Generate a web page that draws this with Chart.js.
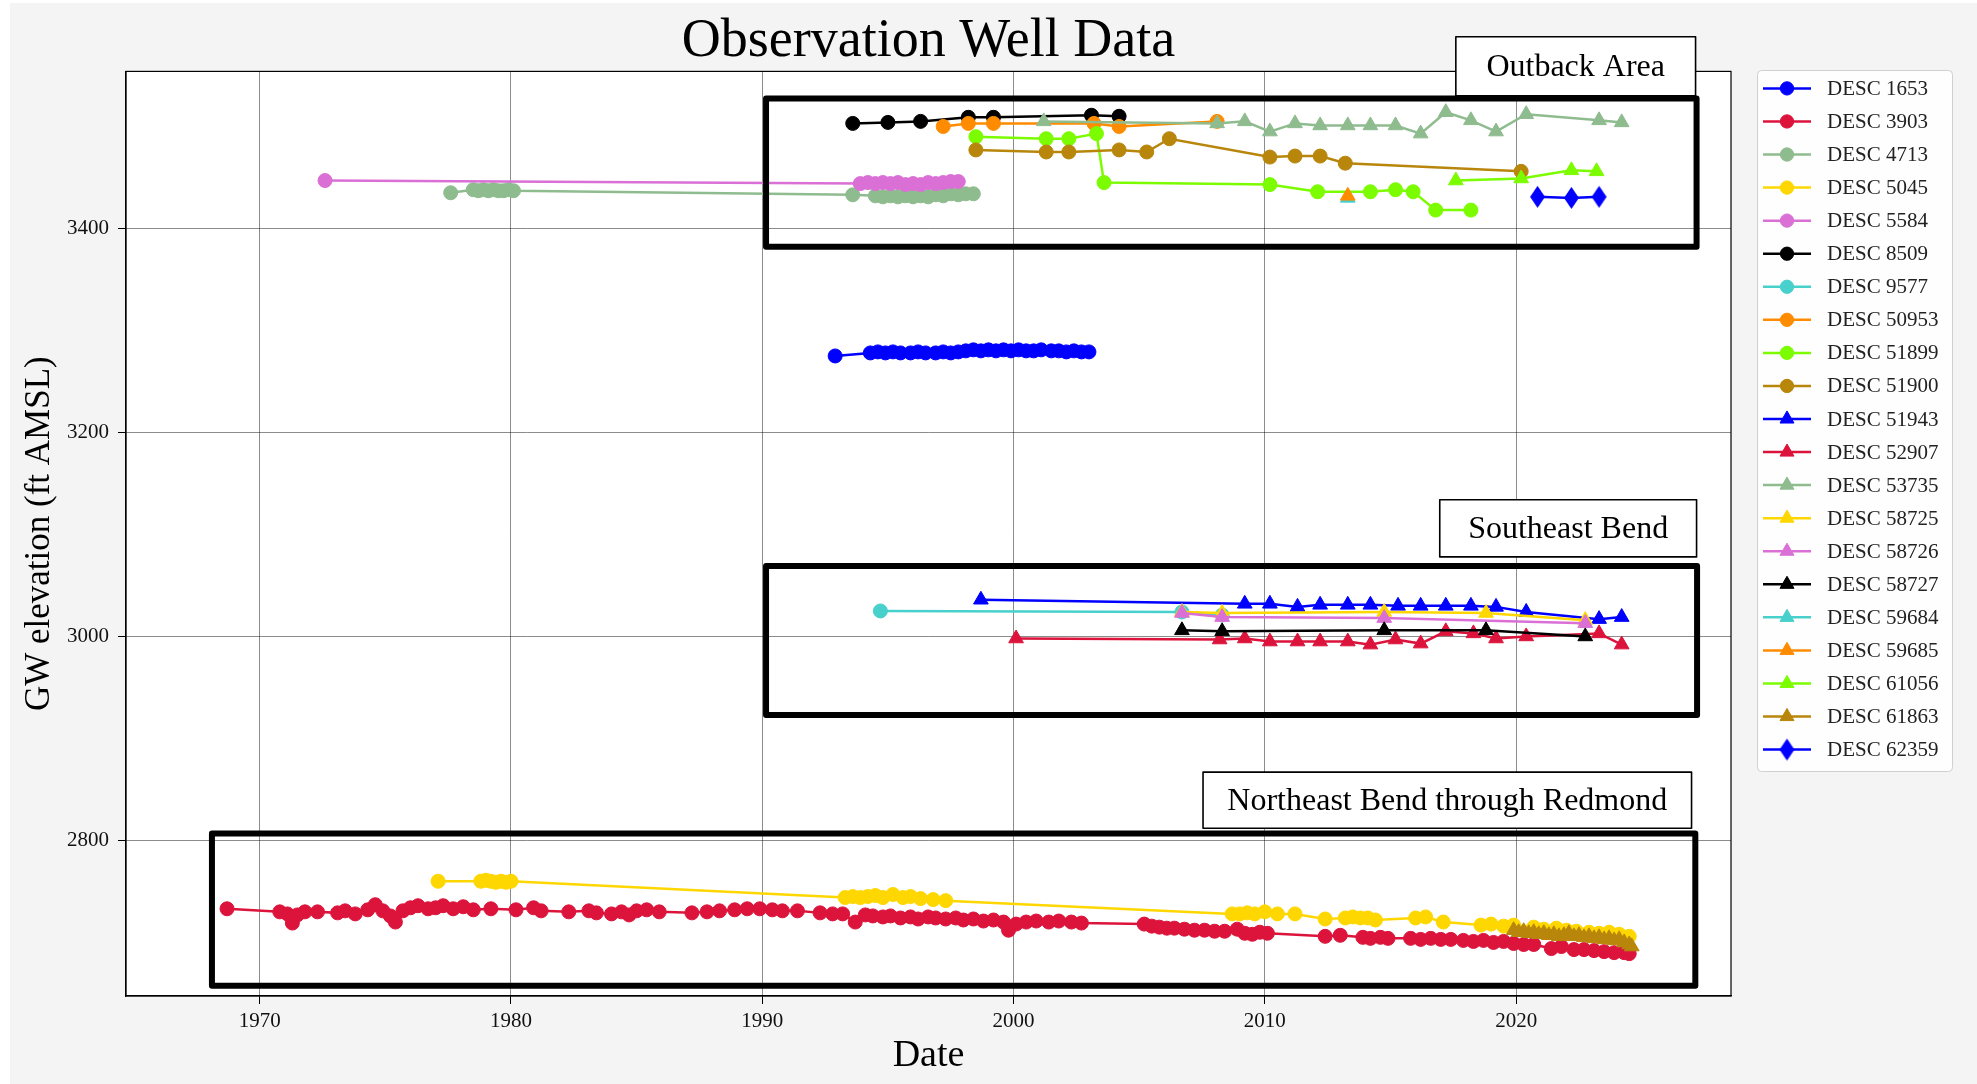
<!DOCTYPE html>
<html>
<head>
<meta charset="utf-8">
<script src="https://cdn.jsdelivr.net/npm/chart.js@4.4.1/dist/chart.umd.min.js"></script>
<style>
  html, body { margin: 0; padding: 0; background: #ffffff; }
  canvas { display: block; }
</style>
</head>
<body>
<canvas id="grafico" width="1977" height="1084"></canvas>
<script>
// Ejes
const xTicks = [1970, 1980, 1990, 2000, 2010, 2020];
const yTicks = [2800, 3000, 3200, 3400];

// Datos de pozos: [año, elevación (ft AMSL)]
const desc1653 = [[1992.9,3275],[1994.3,3278],[1994.6,3279],[1994.9,3278],[1995.2,3279],[1995.5,3278],[1995.9,3278],[1996.2,3279],[1996.5,3278],[1996.9,3278],[1997.2,3279],[1997.5,3278],[1997.8,3279],[1998.1,3280],[1998.4,3281],[1998.7,3280],[1999.0,3281],[1999.3,3280],[1999.6,3281],[1999.9,3280],[2000.2,3281],[2000.5,3280],[2000.8,3280],[2001.1,3281],[2001.5,3280],[2001.8,3280],[2002.1,3279],[2002.4,3280],[2002.7,3279],[2003.0,3279]];
const desc3903 = [[1968.7,2733],[1970.8,2730],[1971.1,2728],[1971.3,2719],[1971.5,2727],[1971.8,2730],[1972.3,2730],[1973.1,2729],[1973.4,2731],[1973.8,2728],[1974.3,2732],[1974.6,2737],[1974.9,2731],[1975.2,2726],[1975.4,2720],[1975.7,2731],[1976.0,2734],[1976.3,2736],[1976.7,2733],[1977.0,2734],[1977.3,2736],[1977.7,2733],[1978.1,2735],[1978.5,2732],[1979.2,2733],[1980.2,2732],[1980.9,2734],[1981.2,2731],[1982.3,2730],[1983.1,2731],[1983.4,2729],[1984.0,2728],[1984.4,2730],[1984.7,2727],[1985.0,2731],[1985.4,2732],[1985.9,2730],[1987.2,2729],[1987.8,2730],[1988.3,2731],[1988.9,2732],[1989.4,2733],[1989.9,2733],[1990.4,2732],[1990.8,2731],[1991.4,2731],[1992.3,2729],[1992.8,2728],[1993.2,2728],[1993.7,2720],[1994.1,2727],[1994.4,2726],[1994.8,2725],[1995.1,2726],[1995.5,2724],[1995.9,2725],[1996.2,2723],[1996.6,2725],[1996.9,2724],[1997.3,2723],[1997.7,2724],[1998.0,2722],[1998.4,2723],[1998.8,2721],[1999.2,2722],[1999.6,2720],[1999.8,2712],[2000.1,2718],[2000.5,2720],[2000.9,2721],[2001.4,2720],[2001.8,2721],[2002.3,2720],[2002.7,2719],[2005.2,2718],[2005.5,2716],[2005.8,2715],[2006.1,2714],[2006.4,2714],[2006.8,2713],[2007.2,2712],[2007.6,2712],[2008.0,2711],[2008.4,2711],[2008.9,2713],[2009.2,2709],[2009.5,2708],[2009.8,2710],[2010.1,2709],[2012.4,2706],[2013.0,2707],[2013.9,2705],[2014.2,2704],[2014.6,2705],[2014.9,2704],[2015.8,2704],[2016.2,2703],[2016.6,2704],[2017.0,2703],[2017.4,2703],[2017.9,2702],[2018.3,2701],[2018.7,2702],[2019.1,2700],[2019.5,2701],[2019.9,2699],[2020.3,2698],[2020.7,2698],[2021.4,2694],[2021.8,2696],[2022.3,2693],[2022.7,2693],[2023.1,2692],[2023.5,2691],[2023.9,2690],[2024.3,2690],[2024.5,2689]];
const desc4713 = [[1977.6,3435],[1978.5,3438],[1978.7,3437],[1978.9,3438],[1979.1,3437],[1979.3,3438],[1979.5,3437],[1979.7,3437],[1979.9,3438],[1980.1,3437],[1993.6,3433],[1994.5,3432],[1994.8,3431],[1995.1,3432],[1995.4,3431],[1995.7,3432],[1996.0,3431],[1996.3,3432],[1996.6,3431],[1996.9,3433],[1997.2,3432],[1997.5,3434],[1997.8,3433],[1998.1,3434],[1998.4,3434]];
const desc5045 = [[1977.1,2760],[1978.8,2760],[1979.0,2761],[1979.2,2760],[1979.4,2759],[1979.6,2760],[1979.8,2759],[1980.0,2760],[1993.3,2744],[1993.6,2745],[1993.9,2744],[1994.2,2745],[1994.5,2746],[1994.8,2744],[1995.2,2747],[1995.6,2744],[1995.9,2745],[1996.3,2743],[1996.8,2742],[1997.3,2741],[2008.7,2728],[2009.0,2728],[2009.3,2729],[2009.6,2728],[2010.0,2730],[2010.5,2728],[2011.2,2728],[2012.4,2723],[2013.2,2724],[2013.5,2725],[2013.8,2724],[2014.1,2724],[2014.4,2722],[2016.0,2724],[2016.4,2725],[2017.1,2720],[2018.6,2717],[2019.0,2718],[2019.5,2716],[2019.9,2717],[2020.7,2715],[2021.1,2713],[2021.6,2714],[2022.0,2712],[2022.4,2711],[2022.9,2710],[2023.3,2709],[2023.7,2710],[2024.1,2708],[2024.5,2706]];
const desc5584 = [[1972.6,3447],[1993.9,3444],[1994.2,3445],[1994.5,3444],[1994.8,3445],[1995.1,3444],[1995.4,3445],[1995.7,3443],[1996.0,3444],[1996.3,3443],[1996.6,3445],[1996.9,3444],[1997.2,3445],[1997.5,3446],[1997.8,3446]];
const desc8509 = [[1993.6,3503],[1995.0,3504],[1996.3,3505],[1998.2,3509],[1999.2,3509],[2003.1,3511],[2004.2,3510]];
const desc9577 = [[1994.7,3025],[2006.7,3024],[2008.3,3021]];
const desc50953 = [[1997.2,3500],[1998.2,3503],[1999.2,3503],[2003.2,3503],[2004.2,3500],[2008.1,3505]];
const desc51899 = [[1998.5,3490],[2001.3,3488],[2002.2,3488],[2003.3,3493],[2003.6,3445],[2010.2,3443],[2012.1,3436],[2014.2,3436],[2015.2,3438],[2015.9,3436],[2016.8,3418],[2018.2,3418]];
const desc51900 = [[1998.5,3477],[2001.3,3475],[2002.2,3475],[2004.2,3477],[2005.3,3475],[2006.2,3488],[2010.2,3470],[2011.2,3471],[2012.2,3471],[2013.2,3464],[2020.2,3456]];
const desc51943 = [[1998.7,3036],[2009.2,3032],[2010.2,3032],[2011.3,3029],[2012.2,3031],[2013.3,3031],[2014.2,3031],[2015.3,3030],[2016.2,3030],[2017.2,3030],[2018.2,3030],[2019.2,3029],[2020.4,3024],[2023.3,3017],[2024.2,3019]];
const desc52907 = [[2000.1,2998],[2008.2,2997],[2009.2,2998],[2010.2,2995],[2011.3,2995],[2012.2,2995],[2013.3,2995],[2014.2,2992],[2015.2,2997],[2016.2,2993],[2017.2,3005],[2018.3,3003],[2019.2,2998],[2020.4,3000],[2023.3,3003],[2024.2,2992]];
const desc53735 = [[2001.2,3505],[2008.1,3503],[2009.2,3505],[2010.2,3495],[2011.2,3503],[2012.2,3501],[2013.3,3501],[2014.2,3501],[2015.2,3501],[2016.2,3493],[2017.2,3514],[2018.2,3506],[2019.2,3495],[2020.4,3512],[2023.3,3506],[2024.2,3504]];
const desc58725 = [[2006.7,3024],[2008.3,3023],[2014.75,3024],[2018.8,3023],[2022.75,3016]];
const desc58726 = [[2006.7,3023],[2008.3,3019],[2014.75,3018],[2022.75,3013]];
const desc58727 = [[2006.7,3006],[2008.3,3005],[2014.75,3006],[2018.8,3006],[2022.75,3000]];
const desc59684 = [[2013.3,3430]];
const desc59685 = [[2013.3,3432]];
const desc61056 = [[2017.6,3447],[2020.2,3449],[2022.2,3457],[2023.2,3456]];
const desc61863 = [[2019.9,2712],[2020.1,2710],[2020.3,2711],[2020.5,2709],[2020.7,2710],[2020.9,2708],[2021.1,2709],[2021.3,2707],[2021.5,2708],[2021.7,2706],[2021.9,2707],[2022.1,2709],[2022.3,2706],[2022.5,2707],[2022.7,2705],[2022.9,2706],[2023.1,2704],[2023.3,2705],[2023.5,2703],[2023.7,2704],[2023.9,2702],[2024.1,2703],[2024.3,2700],[2024.5,2698],[2024.6,2696]];
const desc62359 = [[2020.85,3431],[2022.2,3430],[2023.3,3431]];

const wellNames = ['DESC 1653','DESC 3903','DESC 4713','DESC 5045','DESC 5584','DESC 8509','DESC 9577','DESC 50953','DESC 51899','DESC 51900','DESC 51943','DESC 52907','DESC 53735','DESC 58725','DESC 58726','DESC 58727','DESC 59684','DESC 59685','DESC 61056','DESC 61863','DESC 62359'];
const wellData = [desc1653, desc3903, desc4713, desc5045, desc5584, desc8509, desc9577, desc50953, desc51899, desc51900, desc51943, desc52907, desc53735, desc58725, desc58726, desc58727, desc59684, desc59685, desc61056, desc61863, desc62359];

// Zonas (límites en año / elevación) y sus etiquetas
const zoneNames = ['Outback Area', 'Southeast Bend', 'Northeast Bend through Redmond'];
const zoneBounds = [[1990.15, 2027.18, 3382, 3527.5], [1990.15, 2027.2, 2923, 3069], [1968.1, 2027.13, 2657.6, 2806.9]];
const zoneLabelBounds = [[2017.6, 2027.14, 3530, 3588], [2016.96, 2027.18, 3078, 3134], [2007.54, 2026.98, 2812, 2867]];

// Estilos
const paleta = ['#0000ff','#dc143c','#8fbc8f','#ffd700','#da70d6','#000000','#48d1cc','#ff8c00','#7cfc00','#b8860b'];
const fuente = '"Liberation Serif", "Times New Roman", serif';

// Diamante delgado (como el marcador 'd' de matplotlib)
function diamanteDelgado(color, w, h) {
    const c = document.createElement('canvas');
    c.width = w + 2;
    c.height = h + 2;
    const g = c.getContext('2d');
    g.fillStyle = color;
    g.beginPath();
    g.moveTo(c.width / 2, 1);
    g.lineTo(c.width - 1, c.height / 2);
    g.lineTo(c.width / 2, c.height - 1);
    g.lineTo(1, c.height / 2);
    g.closePath();
    g.fill();
    return c;
}

function marcador(i, color) {
    if (i === 20) return { style: diamanteDelgado(color, 15, 22), r: 9 };
    if (i >= 10) return { style: 'triangle', r: 8.5 };
    return { style: 'circle', r: 7 };
}

const datasets = wellData.map((serie, i) => {
    const color = paleta[i % 10];
    const m = marcador(i, color);
    return {
        label: wellNames[i],
        data: serie.map(p => ({ x: p[0], y: p[1] })),
        showLine: true,
        borderColor: color,
        backgroundColor: color,
        borderWidth: 2.5,
        pointStyle: m.style,
        pointRadius: m.r,
        pointHoverRadius: m.r,
        pointBorderWidth: 1,
        pointBorderColor: color,
        pointBackgroundColor: color,
        order: -i
    };
});

// Plugin: fondo, marco, zonas, etiquetas y leyenda
const decoracion = {
    id: 'decoracion',
    beforeDraw(chart) {
        const ctx = chart.ctx;
        const a = chart.chartArea;
        ctx.save();
        ctx.fillStyle = '#ffffff';
        ctx.fillRect(0, 0, chart.width, chart.height);
        ctx.fillStyle = '#f4f4f4';
        ctx.fillRect(10, 3, chart.width - 10, chart.height - 3);
        ctx.fillStyle = '#ffffff';
        ctx.fillRect(a.left, a.top, a.right - a.left, a.bottom - a.top);
        ctx.restore();
    },
    afterDraw(chart) {
        const ctx = chart.ctx;
        const a = chart.chartArea;
        const xs = chart.scales.x, ys = chart.scales.y;
        ctx.save();
        // marco
        ctx.strokeStyle = '#000';
        ctx.lineWidth = 1.2;
        ctx.strokeRect(a.left, a.top, a.right - a.left, a.bottom - a.top);

        // rectángulos de zonas
        ctx.lineWidth = 6;
        ctx.lineJoin = 'round';
        zoneBounds.forEach(b => {
            const x1 = xs.getPixelForValue(b[0]), x2 = xs.getPixelForValue(b[1]);
            const y1 = ys.getPixelForValue(b[3]), y2 = ys.getPixelForValue(b[2]);
            ctx.strokeRect(x1, y1, x2 - x1, y2 - y1);
        });

        // etiquetas de zonas
        ctx.font = '32px ' + fuente;
        ctx.textAlign = 'center';
        ctx.textBaseline = 'middle';
        zoneLabelBounds.forEach((b, i) => {
            const x1 = xs.getPixelForValue(b[0]), x2 = xs.getPixelForValue(b[1]);
            const y1 = ys.getPixelForValue(b[3]), y2 = ys.getPixelForValue(b[2]);
            ctx.fillStyle = '#fff';
            ctx.fillRect(x1, y1, x2 - x1, y2 - y1);
            ctx.lineWidth = 1.6;
            ctx.strokeStyle = '#000';
            ctx.strokeRect(x1, y1, x2 - x1, y2 - y1);
            ctx.fillStyle = '#000';
            ctx.fillText(zoneNames[i], (x1 + x2) / 2, (y1 + y2) / 2 + 1);
        });

        // leyenda
        const lx = 1757, ly = 70, lw = 195, lh = 701;
        ctx.fillStyle = 'rgba(255,255,255,0.85)';
        ctx.strokeStyle = '#d0d0d0';
        ctx.lineWidth = 1;
        ctx.beginPath();
        ctx.roundRect(lx + 0.5, ly + 0.5, lw, lh, 4);
        ctx.fill();
        ctx.stroke();
        ctx.font = '21px ' + fuente;
        ctx.textAlign = 'left';
        chart.data.datasets.forEach((ds, i) => {
            const y = 88.4 + i * 33.06;
            ctx.strokeStyle = ds.borderColor;
            ctx.lineWidth = 2.5;
            ctx.beginPath();
            ctx.moveTo(1763, y);
            ctx.lineTo(1811, y);
            ctx.stroke();
            ctx.fillStyle = ds.backgroundColor;
            ctx.lineWidth = 1;
            Chart.helpers.drawPoint(ctx, { pointStyle: ds.pointStyle, radius: ds.pointRadius * 0.95, rotation: 0, borderWidth: 1 }, 1787, y);
            ctx.fillStyle = '#222';
            ctx.fillText(ds.label, 1827, y + 1);
        });
        ctx.restore();
    }
};

new Chart(document.getElementById('grafico').getContext('2d'), {
    type: 'scatter',
    data: { datasets: datasets },
    options: {
        responsive: false,
        animation: false,
        devicePixelRatio: 1,
        layout: { padding: { left: 0, right: 246, top: 0, bottom: 0 } },
        plugins: {
            legend: { display: false },
            tooltip: { enabled: false },
            title: {
                display: true,
                fullSize: false,
                text: 'Observation Well Data',
                color: '#000',
                font: { family: fuente, size: 54, weight: 'normal', lineHeight: 1.1 },
                padding: { top: 12, bottom: 0 }
            }
        },
        scales: {
            x: {
                type: 'linear',
                min: 1964.68,
                max: 2028.55,
                afterBuildTicks: s => { s.ticks = xTicks.map(v => ({ value: v })); },
                afterFit: s => { s.height = 88; },
                grid: { color: 'rgba(0,0,0,0.45)', lineWidth: 1, tickColor: '#000', tickLength: 8 },
                border: { display: true, color: '#000', width: 1.2 },
                ticks: { color: '#111', padding: 5, maxRotation: 0, font: { family: fuente, size: 21 }, callback: v => String(v) },
                title: { display: true, text: 'Date', color: '#000', font: { family: fuente, size: 38 }, padding: { top: 0, bottom: 5 } }
            },
            y: {
                type: 'linear',
                min: 2647.5,
                max: 3554,
                afterBuildTicks: s => { s.ticks = yTicks.map(v => ({ value: v })); },
                afterFit: s => { s.width = 126; },
                grid: { color: 'rgba(0,0,0,0.45)', lineWidth: 1, tickColor: '#000', tickLength: 8 },
                border: { display: true, color: '#000', width: 1.2 },
                ticks: { color: '#111', padding: 9, font: { family: fuente, size: 21 }, callback: v => String(v) },
                title: { display: true, text: 'GW elevation (ft AMSL)', color: '#000', font: { family: fuente, size: 35 }, padding: { top: 19, bottom: 0 } }
            }
        }
    },
    plugins: [decoracion]
});
</script>
</body>
</html>
